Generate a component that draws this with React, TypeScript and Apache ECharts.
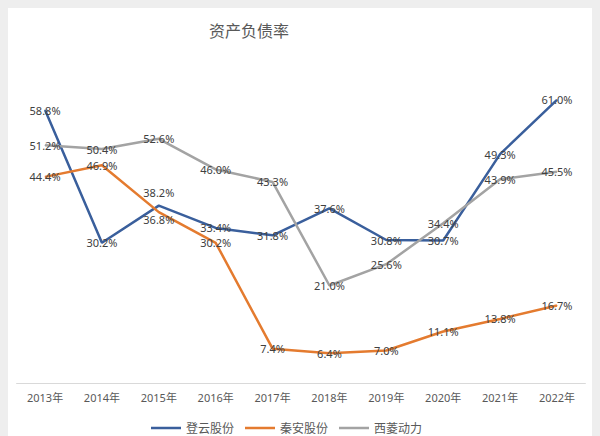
import React, { useEffect, useRef } from "react";
import * as echarts from "echarts";

const categories = ["2013年", "2014年", "2015年", "2016年", "2017年", "2018年", "2019年", "2020年", "2021年", "2022年"];
const dengyun = [58.8, 30.2, 38.2, 33.4, 31.8, 37.6, 30.8, 30.7, 49.3, 61.0];
const qinan = [44.4, 46.9, 36.8, 30.2, 7.4, 6.4, 7.0, 11.1, 13.8, 16.7];
const xiling = [51.2, 50.4, 52.6, 46.0, 43.3, 21.0, 25.6, 34.4, 43.9, 45.5];
const seriesNames = ["登云股份", "秦安股份", "西菱动力"];
const colors = ["#3a5f9c", "#e47b2f", "#a3a3a3"];

const FONT = "'Noto Sans', 'Noto Sans CJK SC', sans-serif";

function mk(name: string, values: number[], color: string, offsets: Record<number, [number, number]>) {
  return {
    name,
    type: "line",
    data: values.map((v, i) =>
      offsets[i] ? { value: v, label: { offset: offsets[i] } } : v
    ),
    symbol: "circle",
    symbolSize: 1,
    itemStyle: { color },
    lineStyle: { color, width: 2.5 },
    label: {
      show: true,
      position: "inside",
      formatter: (p: any) => Number(p.value).toFixed(1) + "%",
      color: "#404040",
      fontSize: 11,
      fontFamily: FONT,
    },
    emphasis: { disabled: true },
  };
}

export default function App() {
  const ref = useRef<HTMLDivElement>(null);
  useEffect(() => {
    if (!ref.current) return;
    const chart = echarts.init(ref.current, null, { renderer: "svg" });
    chart.setOption({
      animation: false,
      backgroundColor: "#eeeeee",
      textStyle: { fontFamily: FONT },
      graphic: [
        {
          type: "rect",
          z: -10,
          silent: true,
          shape: { x: 8, y: 8, width: 584, height: 428 },
          style: { fill: "#ffffff" },
        },
      ],
      title: {
        text: "资产负债率",
        left: 204,
        top: 18,
        textStyle: { fontSize: 16, fontWeight: "normal", color: "#595959", fontFamily: FONT },
      },
      legend: {
        left: 146,
        top: 416,
        icon: "rect",
        itemWidth: 30,
        itemHeight: 2.5,
        itemGap: 11,
        textStyle: { fontSize: 12, lineHeight: 14, color: "#595959", fontFamily: FONT },
        data: seriesNames,
      },
      grid: { left: 16.6, right: 14.6, top: 58, bottom: 53 },
      xAxis: {
        type: "category",
        data: categories,
        boundaryGap: true,
        axisLine: { lineStyle: { color: "#d9d9d9", width: 1 } },
        axisTick: { show: false },
        axisLabel: { color: "#595959", fontSize: 11, margin: 9, fontFamily: FONT },
      },
      yAxis: {
        type: "value",
        min: 0,
        max: 70,
        show: false,
        splitLine: { show: false },
      },
      series: [
        mk(seriesNames[0], dengyun, colors[0], { 2: [0, -13] }),
        mk(seriesNames[1], qinan, colors[1], { 2: [0, 7] }),
        mk(seriesNames[2], xiling, colors[2], {}),
      ],
    });
    return () => chart.dispose();
  }, []);
  return (
    <div style={{ position: "fixed", left: 0, top: 0, width: 600, height: 436 }}>
      <div ref={ref} style={{ width: 600, height: 436 }} />
    </div>
  );
}
